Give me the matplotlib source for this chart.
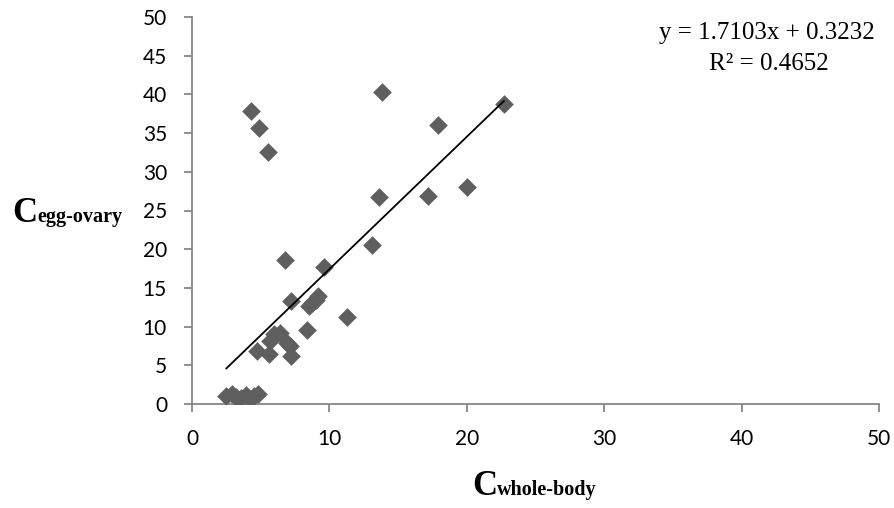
import matplotlib
matplotlib.use("Agg")
import matplotlib.pyplot as plt
import numpy as np

# Data
c_whole_body = [4.3, 4.9, 5.5, 13.8, 17.9, 22.7, 13.6, 17.2, 20.0, 13.1, 6.8, 9.6,
                7.2, 11.3, 9.2, 9.0, 8.7, 8.5, 8.4, 6.0, 6.4, 5.7, 6.9, 7.2, 4.7,
                5.6, 7.1, 2.5, 2.9, 3.2, 3.6, 3.9, 4.2, 4.5, 4.8]
c_egg_ovary = [37.8, 35.6, 32.5, 40.3, 36.0, 38.8, 26.7, 26.9, 28.1, 20.5, 18.6, 17.7,
               13.3, 11.2, 14.0, 13.5, 13.0, 12.6, 9.5, 9.0, 9.2, 8.1, 7.9, 6.2, 6.8,
               6.5, 7.5, 1.0, 1.3, 0.9, 0.8, 1.1, 0.7, 1.0, 1.3]
slope = 1.7103
intercept = 0.3232
r_squared = 0.4652
x_ticks = [0, 10, 20, 30, 40, 50]
y_ticks = [0, 5, 10, 15, 20, 25, 30, 35, 40, 45, 50]

W, H = 894, 508
fig = plt.figure(figsize=(W/100, H/100), dpi=100)
ax = fig.add_axes([192/W, 1-404/H, (879-192)/W, (404-17)/H])

ax.scatter(c_whole_body, c_egg_ovary, marker='D', s=9.5**2, color='#5f5f5f',
           linewidths=0, zorder=3)

xs = np.array([min(c_whole_body), max(c_whole_body)])
ax.plot(xs, slope*xs + intercept, color='black', lw=1.3, zorder=4)

ax.set_xlim(0, 50)
ax.set_ylim(0, 50)
ax.set_xticks(x_ticks)
ax.set_yticks(y_ticks)
gray = '#868686'
for s in ['top', 'right']:
    ax.spines[s].set_visible(False)
for s in ['left', 'bottom']:
    ax.spines[s].set_color(gray)
    ax.spines[s].set_linewidth(1.3)
ax.tick_params(direction='out', length=6, width=1.3, color=gray, labelsize=15)
ax.tick_params(axis='x', pad=12)
ax.tick_params(axis='y', pad=12)
for lab in ax.get_xticklabels() + ax.get_yticklabels():
    lab.set_fontfamily('Lato')

def px(x, y):
    return x / W, 1 - y / H

eq_kw = dict(transform=fig.transFigure, ha='center', va='baseline',
             fontsize=18, family='Liberation Serif')
fig.text(*px(767, 39), f"y = {slope:.4f}x + {intercept:.4f}", **eq_kw)
fig.text(*px(769, 70), f"R² = {r_squared:.4f}", **eq_kw)

renderer = fig.canvas.get_renderer()

def sub_label(x0, y0, big, small):
    t1 = fig.text(*px(x0, y0), big, ha='left', va='baseline', fontsize=25,
                  fontweight='bold', family='Liberation Serif')
    bb = t1.get_window_extent(renderer)
    fig.text(bb.x1 / W, 1 - y0 / H, small, ha='left', va='baseline', fontsize=14.5,
             fontweight='bold', family='Liberation Serif')

sub_label(12, 222, 'C', 'egg-ovary')
sub_label(472, 495, 'C', 'whole-body')

fig.savefig('out.png', dpi=100)
